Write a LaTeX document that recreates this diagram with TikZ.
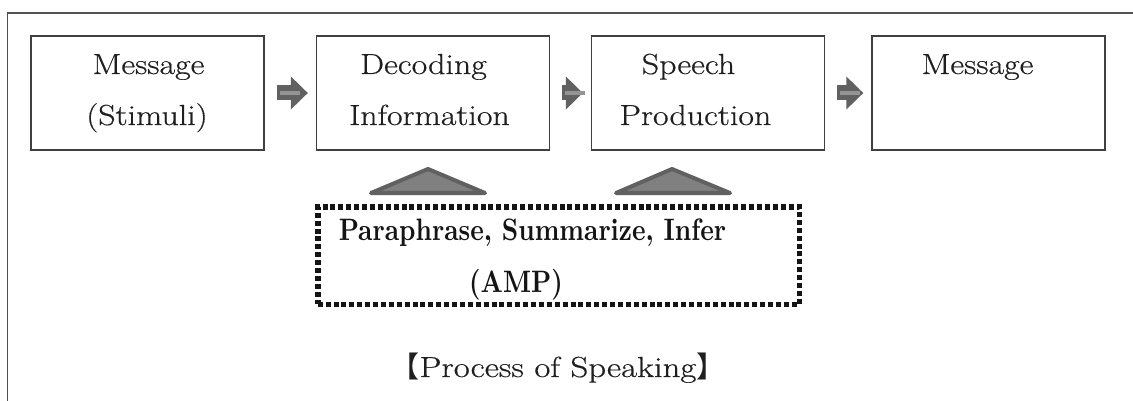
\documentclass[tikz,border=0pt]{standalone}
\usepackage{fontspec}
\newfontfamily\lmw{Latin Modern Roman}[FakeStretch=1.17,FakeBold=0.5]
\newfontfamily\lmc{Latin Modern Roman}[FakeStretch=1.2,FakeBold=0.5]
\newfontfamily\lmb{lmroman10-bold.otf}[FakeStretch=0.83]
\newfontfamily\cjk{Noto Sans CJK JP}
\usetikzlibrary{arrows.meta,calc}
\begin{document}
\begin{tikzpicture}[x=1pt,y=-1pt,
  box/.style={draw=black!75, line width=1.3pt, minimum width=233pt, minimum height=114pt, inner sep=0pt},
  boxtxt/.style={anchor=base, inner sep=0pt, text=black!88, font=\lmw\fontsize{29}{29}\selectfont},
  flow/.style={line width=15pt, draw=black!62, -{Triangle[length=17pt,width=32pt]}},
  flowcore/.style={line width=4pt, draw=black!42},
  tri/.style={fill=black!50, draw=black!62, line width=4pt, line join=round},
  dotbox/.style={draw=black!92, line width=5.5pt, dash pattern=on 5pt off 2.9pt,
    minimum width=481.5pt, minimum height=97.5pt, inner sep=0pt},
  boldtxt/.style={anchor=base, inner sep=0pt, text=black!92, font=\lmb\fontsize{31}{31}\selectfont},
  caption/.style={anchor=base, inner sep=0pt, text=black!88, font=\lmc\fontsize{29}{29}\selectfont},
  frame/.style={draw=black!68, line width=1.4pt}
]
\useasboundingbox (0,0) rectangle (1133,401);
\draw[frame] (7.5,401) -- (7.5,13) -- (1133,13);

\node[box] (m1) at (147.5,93) {};
\node[box] (m2) at (433,93) {};
\node[box] (m3) at (708,93) {};
\node[box] (m4) at (988.5,93) {};

\node[boxtxt] (m1a) at (148.5,74) {Message};
\node[boxtxt] (m1b) at (147,125) {(Stimuli)};
\node[boxtxt] (m2a) at (423.5,74) {Decoding};
\node[boxtxt] (m2b) at (429.5,125) {Information};
\node[boxtxt] (m3a) at (688.5,74) {Speech};
\node[boxtxt] (m3b) at (695.5,125) {Production};
\node[boxtxt] (m4a) at (977.5,74) {Message};

\foreach \a/\b in {m1/m2, m2/m3, m3/m4}{
  \coordinate (s) at ($(\a.east)+(12,0)$);
  \coordinate (e) at ($(\b.west)+(-8,0)$);
  \draw[flow] (s) -- (e);
  \draw[flowcore] ($(s)+(3,0)$) -- ($(s)+(23,0)$);
}

\node[dotbox] (amp) at (558.5,255.5) {};
\node[boldtxt] (t1) at (532.5,240) {Paraphrase, Summarize, Infer};
\node[boldtxt] (t2) at (516,292) {(AMP)};

\filldraw[tri] (371,193) -- (428,169) -- (485,193) -- cycle;
\filldraw[tri] (616,193) -- (672,169) -- (730,193) -- cycle;

\node[caption] (cap) at (558,377) {{\cjk 【}Process of Speaking{\cjk 】}};
\end{tikzpicture}
\end{document}
